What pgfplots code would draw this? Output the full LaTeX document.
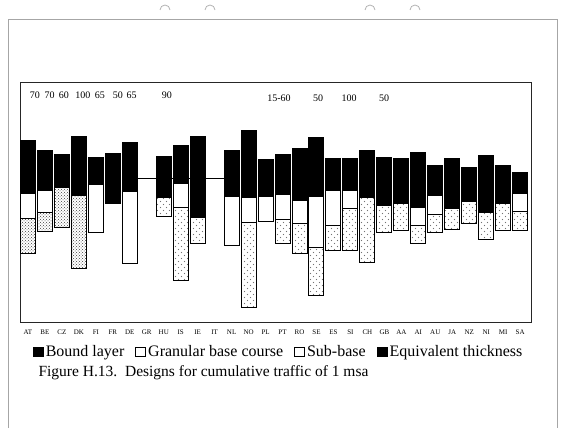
\documentclass[border=0pt]{standalone}
\usepackage{fontspec}
\setmainfont{Liberation Serif}
\usepackage{pgfplots}
\usepackage{pgfplotstable}
\pgfplotsset{compat=1.18}
\usetikzlibrary{patterns}

% sparse dots for the lighter sub-base fill
\pgfdeclarepatternformonly{sparsedots}{\pgfpoint{-1pt}{-1pt}}{\pgfpoint{7pt}{7pt}}{\pgfpoint{6pt}{6pt}}{%
  \pgfpathcircle{\pgfpoint{1.5pt}{1.5pt}}{0.55pt}%
  \pgfpathcircle{\pgfpoint{4.5pt}{4.5pt}}{0.55pt}%
  \pgfusepath{fill}}

\pgfplotsset{sqleg/.style={legend image code/.code={\draw[##1] (0pt,-4.5pt) rectangle (10pt,4.5pt);}}}
\tikzset{topnum/.style={font=\fontsize{10}{12}\selectfont}}

% depth below frame top (px): offset, bound, granular, sub-base (dense / sparse)
\pgfplotstableread{
pos off bound gran dense sparse
1  58 53 25 35 0
2  68 40 22 19 0
3  72 33 0  40 0
4  54 59 0  73 0
5  75 27 48 0  0
6  71 50 0  0  0
7  60 49 72 0  0
9  74 41 0  0  19
10 63 38 24 0  73
11 54 81 0  0  26
13 68 46 49 0  0
14 48 67 25 0  85
15 77 37 25 0  0
16 72 40 25 0  24
17 66 52 23 0  30
18 55 59 51 0  48
19 76 32 35 0  25
20 76 32 18 0  42
21 68 47 0  0  65
22 75 48 0  0  27
23 76 45 0  0  27
24 70 55 18 0  18
25 83 30 19 0  18
26 76 50 0  0  21
27 85 34 0  0  22
28 73 57 0  0  27
29 83 38 0  0  27
30 90 21 18 0  19
}\layers

\begin{document}
\begin{tikzpicture}[x=1pt,y=-1pt]
\path[use as bounding box] (0,0) rectangle (577,428);
% scanned page border
\draw[gray!70, line width=0.6pt] (8,428) -- (8,19) -- (557,19) -- (557,428);
\foreach \r in {165,210,370,415} \draw[gray!60, line width=0.8pt] (\r-5,10) arc[start angle=180, end angle=360, radius=5];
\coordinate (fr) at (20,82);

\pgfplotsset{frame/.style={
  at={(fr)}, anchor=north west,
  width=511pt, height=240pt, scale only axis,
  xmin=0.529, xmax=30.64, ymin=0, ymax=240, y dir=reverse}}

\begin{axis}[frame, hide axis,
  legend style={draw=none, fill=none, font=\fontsize{16}{18}\selectfont,
    at={(axis description cs:0.025,-0.125)}, anchor=west, inner sep=0pt,
    /tikz/every even column/.append style={column sep=9pt}},
  legend columns=4,
  legend cell align=left]
\addplot[black, line width=0.8pt, forget plot] coordinates {(7.5,96) (12.55,96)};
\addlegendimage{sqleg, fill=black, draw=black, line width=0.8pt}
\addlegendentry{Bound layer}
\addlegendimage{sqleg, fill=white, draw=black, line width=0.8pt}
\addlegendentry{Granular base course}
\addlegendimage{sqleg, fill=white, draw=black, line width=0.8pt}
\addlegendentry{Sub-base}
\addlegendimage{sqleg, fill=black, draw=black, line width=0.8pt}
\addlegendentry{Equivalent thickness}
\node[topnum] at (axis cs:1.41,13) {70};
\node[topnum] at (axis cs:2.27,13) {70};
\node[topnum] at (axis cs:3.12,13) {60};
\node[topnum] at (axis cs:4.24,13) {100};
\node[topnum] at (axis cs:5.24,13) {65};
\node[topnum] at (axis cs:6.30,13) {50};
\node[topnum] at (axis cs:7.10,13) {65};
\node[topnum] at (axis cs:9.19,13) {90};
\node[topnum] at (axis cs:15.79,16) {15-60};
\node[topnum] at (axis cs:18.09,16) {50};
\node[topnum] at (axis cs:19.92,16) {100};
\node[topnum] at (axis cs:21.98,16) {50};
\end{axis}

\begin{axis}[frame,
  ybar stacked, bar width=0.884,
  axis line style={black!85, line width=0.8pt},
  ytick=\empty,
  xtick={1,...,30},
  xticklabels={AT,BE,CZ,DK,FI,FR,DE,GR,HU,IS,IE,IT,NL,NO,PL,PT,RO,SE,ES,SI,CH,GB,AA,AI,AU,JA,NZ,NI,MI,SA},
  xticklabel style={font=\fontsize{7}{8}\selectfont, yshift=-4pt},
  major tick length=0pt,
  every axis plot/.append style={line width=1pt}]
\addplot[draw=none, fill=none] table[x=pos, y=off]{\layers};
\addplot[fill=black, draw=black] table[x=pos, y=bound]{\layers};
\addplot[fill=white, draw=black] table[x=pos, y=gran]{\layers};
\addplot[fill=white, draw=black, postaction={pattern=crosshatch dots, pattern color=black!75}] table[x=pos, y=dense]{\layers};
\addplot[fill=white, draw=black, postaction={pattern=sparsedots, pattern color=black!55}] table[x=pos, y=sparse]{\layers};
\end{axis}

\node[anchor=west, font=\fontsize{15.5}{18}\selectfont] at (35,373) {Figure H.13.\ \ Designs for cumulative traffic of 1 msa};
\end{tikzpicture}
\end{document}
